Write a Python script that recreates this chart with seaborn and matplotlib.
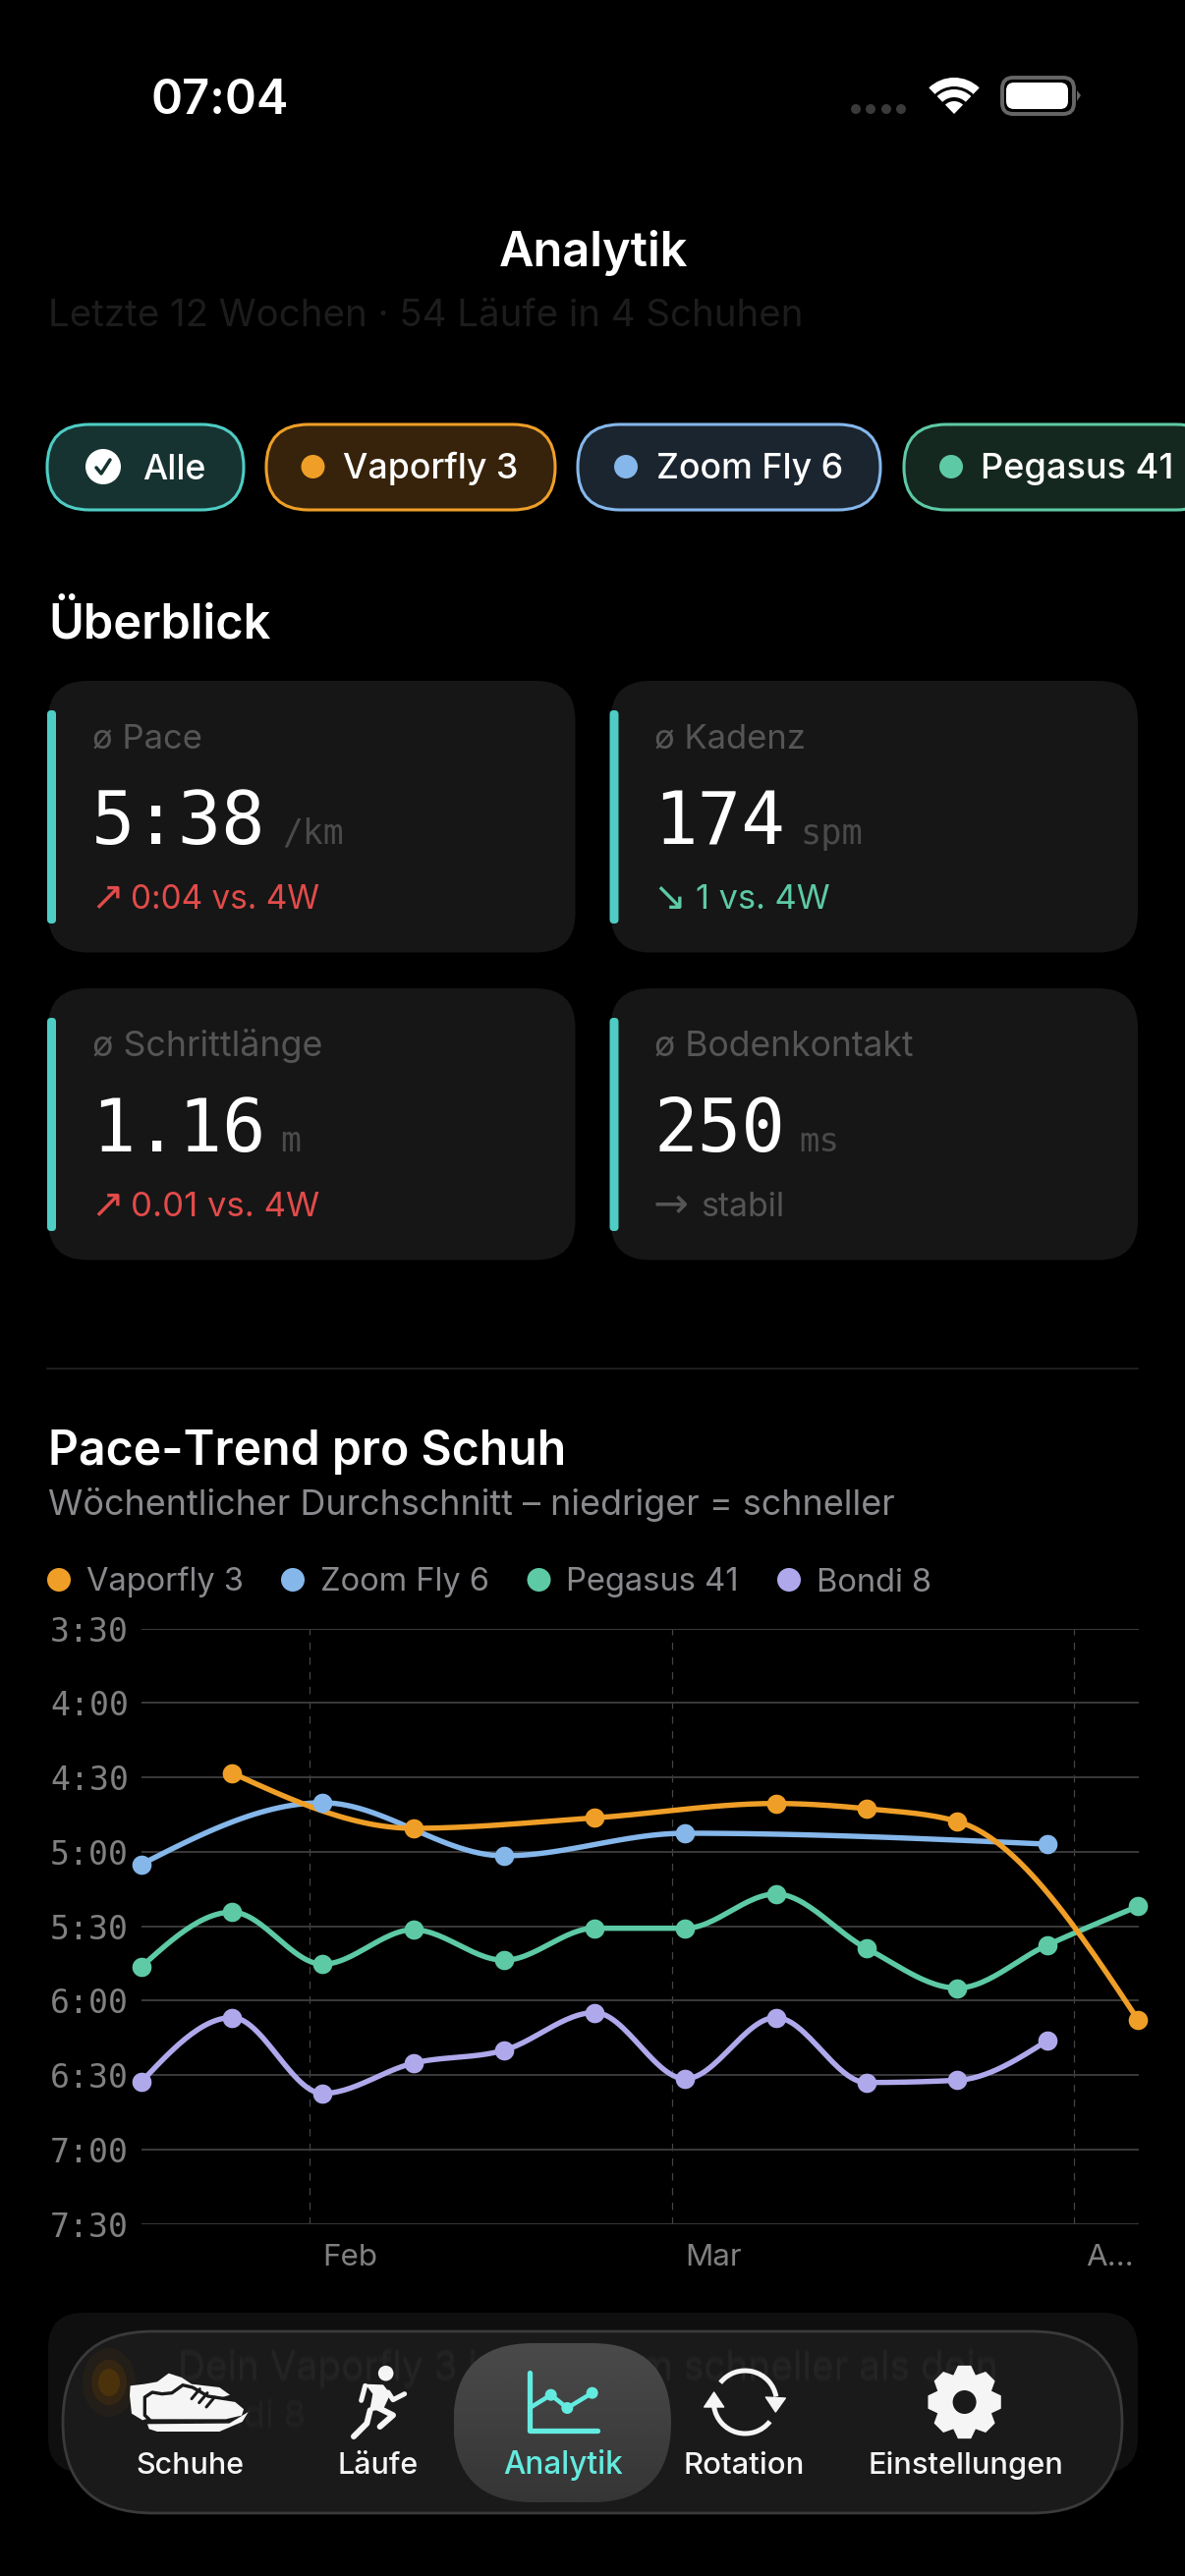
"""
Analytik screen: pace trend per shoe
"""
import numpy as np
import pandas as pd
import matplotlib
matplotlib.use("Agg")
import matplotlib.pyplot as plt
from matplotlib.patches import FancyBboxPatch, Circle, Wedge, Polygon, Ellipse, Arc
from matplotlib.transforms import ScaledTranslation
import seaborn as sns

# chart data, pace in seconds per km
week_dates = pd.date_range("2026-01-19", periods=12, freq="7D")
vaporfly_weeks = [1, 3, 5, 7, 8, 9, 11]
vaporfly_pace = [268.2, 290.5, 286.3, 280.5, 282.6, 287.7, 367.9]
zoomfly_weeks = [0, 2, 4, 6, 10]
zoomfly_pace = [305.0, 280.2, 301.6, 292.5, 296.9]
pegasus_weeks = [0, 1, 2, 3, 4, 5, 6, 7, 8, 9, 10, 11]
pegasus_pace = [346.3, 324.3, 345.3, 331.4, 343.7, 330.8, 330.8, 317.0, 338.9, 354.9, 337.5, 321.9]
bondi_weeks = [0, 1, 2, 3, 4, 5, 6, 7, 8, 9, 10]
bondi_pace = [392.7, 366.8, 397.4, 385.2, 380.0, 364.8, 391.5, 366.8, 393.0, 392.1, 376.0]

shoe_names = ["Vaporfly 3", "Zoom Fly 6", "Pegasus 41", "Bondi 8"]
pace_ticks = [210, 240, 270, 300, 330, 360, 390, 420, 450]
pace_tick_labels = ["3:30", "4:00", "4:30", "5:00", "5:30", "6:00", "6:30", "7:00", "7:30"]
month_ticks = pd.to_datetime(["2026-02-01", "2026-03-01", "2026-04-01"])
month_labels = ["Feb", "Mar", "A…"]

card_labels = ["ø Pace", "ø Kadenz", "ø Schrittlänge", "ø Bodenkontakt"]
card_values = ["5:38", "174", "1.16", "250"]
card_units = ["/km", "spm", "m", "ms"]
card_arrows = ["↗", "↘", "↗", "→"]
card_trends = ["0:04 vs. 4W", "1 vs. 4W", "0.01 vs. 4W", "stabil"]

TEAL = "#4ECDC4"
ORANGE = "#EF9F27"
BLUE = "#85B7EB"
GREEN = "#5DCAA5"
PURPLE = "#AFA9EC"
RED = "#E24B4A"
WHITE = "#F5F5F5"
BAR = "#1A1A1A"

sns.set_theme(style="dark", rc={"figure.facecolor": "black", "axes.facecolor": "none"})
plt.rcParams["font.family"] = ["Inter", "DejaVu Sans"]
MONO = ["DejaVu Sans Mono"]

fig = plt.figure(figsize=(12.06, 26.22), dpi=100)
ov = fig.add_axes([0, 0, 1, 1])
ov.set_xlim(0, 1206)
ov.set_ylim(2622, 0)
ov.axis("off")
renderer = fig.canvas.get_renderer()


def label(x, base, s, width, color="white", weight="normal", family=None, ax_zorder=5, alpha=None):
    """Text from left x on baseline, scaled to the measured width"""
    t = ov.text(x, base, s, color=color, fontweight=weight, fontsize=20, va="baseline",
                ha="left", zorder=ax_zorder, alpha=alpha)
    if family:
        t.set_family(family)
    t.set_fontsize(20 * width / t.get_window_extent(renderer).width)
    return t


def rbox(x0, y0, x1, y1, r, fc, ec="none", lw=0, z=1):
    p = FancyBboxPatch((x0, y0), x1 - x0, y1 - y0, boxstyle=f"round,pad=0,rounding_size={r}",
                       fc=fc, ec=ec, lw=lw, zorder=z)
    ov.add_patch(p)
    return p


def stroke(points, color, px, z=6):
    xs, ys = zip(*points)
    ov.plot(xs, ys, color=color, lw=px * 0.72, solid_capstyle="round", solid_joinstyle="round", zorder=z)


def monotone_curve(xs, ys, per_segment=30):
    """Monotone cubic through the points, same shape as the app's line smoothing"""
    xs = np.asarray(xs, float)
    ys = np.asarray(ys, float)
    h = np.diff(xs)
    s = np.diff(ys) / h
    t = np.zeros(len(xs))
    for i in range(1, len(xs) - 1):
        p = (s[i - 1] * h[i] + s[i] * h[i - 1]) / (h[i - 1] + h[i])
        t[i] = (np.sign(s[i - 1]) + np.sign(s[i])) * min(abs(s[i - 1]), abs(s[i]), 0.5 * abs(p))
    t[0] = (3 * s[0] - t[1]) / 2
    t[-1] = (3 * s[-1] - t[-2]) / 2
    out_x, out_y = [], []
    for i in range(len(h)):
        u = np.linspace(0, 1, per_segment)
        a = 2 * u**3 - 3 * u**2 + 1
        b = u**3 - 2 * u**2 + u
        c = -2 * u**3 + 3 * u**2
        d = u**3 - u**2
        out_x.extend(xs[i] + u * h[i])
        out_y.extend(a * ys[i] + b * h[i] * t[i] + c * ys[i + 1] + d * h[i] * t[i + 1])
    return np.array(out_x), np.array(out_y)


# status bar
label(153, 116, "07:04", 140, weight="semibold")
for x in [871, 886, 902, 917]:
    ov.add_patch(Circle((x, 111), 5, fc="#3A3A3A", ec="none"))
ov.add_patch(Wedge((971, 116), 37, 226, 314, width=9, fc="white", ec="none"))
ov.add_patch(Wedge((971, 116), 25, 226, 314, width=8, fc="white", ec="none"))
ov.add_patch(Wedge((971, 116), 13, 226, 314, fc="white", ec="none"))
rbox(1020, 79, 1093, 116, 11, "black", "#666666", 2.8)
rbox(1024, 84, 1087, 111, 8, "white")
ov.add_patch(Polygon([(1096, 92), (1100, 97), (1096, 103)], fc="#666666", ec="none"))

# header
label(508, 271, "Analytik", 193, weight="semibold")
label(49, 332, "Letzte 12 Wochen · 54 Läufe in 4 Schuhen", 768, color="#1C1C1C")

# filter chips
chips = [
    (48, 248, "#163331", TEAL, None, 145, 64, "Alle"),
    (271, 565, "#37230B", ORANGE, 318.5, 349, 178, "Vaporfly 3"),
    (588, 896, "#1B2530", BLUE, 637, 668, 190, "Zoom Fly 6"),
    (920, 1240, "#152820", GREEN, 968, 998, 196, "Pegasus 41"),
]
for x0, x1, fc, ec, dot, tx, tw, name in chips:
    rbox(x0, 432, x1, 519, 43, fc, ec, 2.2)
    if dot:
        ov.add_patch(Circle((dot, 475), 12, fc=ec, ec="none", zorder=5))
    label(tx, 487.5, name, tw, weight="medium")
ov.add_patch(Circle((105, 475), 18, fc="white", ec="none", zorder=5))
stroke([(98, 476), (103, 482), (112, 468)], "#163331", 3.5)

# overview cards
label(49, 650, "Überblick", 227, weight="semibold")
card_x = [49, 621.5, 49, 621.5]
card_y = [693, 693, 1006, 1006]
label_w = [112, 154, 234, 264]
unit_x = [287, 814, 285, 813]
unit_w = [63, 64, 21, 41]
value_w = [178, 134, 178, 134]
arrow_w = [34, 34, 34, 36]
text_x = [133, 708, 133, 713]
text_w = [192, 137, 192, 85]
trend_c = [RED, GREEN, RED, "#555555"]
for i in range(4):
    x, y = card_x[i], card_y[i]
    rbox(x, y, x + 536.5, y + 276.5, 40, "#161616")
    rbox(x - 1, y + 30, x + 8, y + 247, 4, TEAL, z=2)
    label(x + 45, y + 69, card_labels[i], label_w[i], color="#555555")
    label(x + 44, y + 166, card_values[i], value_w[i], family=MONO)
    label(unit_x[i], y + 166, card_units[i], unit_w[i], color="#4A4A4A", family=MONO)
    label(x + 43, y + 233, card_arrows[i], arrow_w[i], color=trend_c[i], family=["DejaVu Sans"])
    label(text_x[i], y + 232, card_trends[i], text_w[i], color=trend_c[i])

ov.plot([48, 1158], [1392.7, 1392.7], color="#1E1E1E", lw=1.4)

# section header and legend
label(49, 1491, "Pace-Trend pro Schuh", 528, weight="semibold")
label(49, 1542, "Wöchentlicher Durchschnitt – niedriger = schneller", 860, color="#8A8A8E")
legend_dot = [60, 298, 548.5, 803]
legend_tx = [88, 326, 576, 831]
legend_w = [160, 172, 176, 117]
colors = [ORANGE, BLUE, GREEN, PURPLE]
for i, name in enumerate(shoe_names):
    ov.add_patch(Circle((legend_dot[i], 1608), 12, fc=colors[i], ec="none"))
    label(legend_tx[i], 1619.5, name, legend_w[i], color="#8A8A8E")

# trend chart
ax = fig.add_axes([144 / 1206, 1 - 2263.6 / 2622, (1158.5 - 144) / 1206, (2263.6 - 1657.7) / 2622])
ax.patch.set_alpha(0)
series = [
    (zoomfly_weeks, zoomfly_pace, BLUE),
    (bondi_weeks, bondi_pace, PURPLE),
    (pegasus_weeks, pegasus_pace, GREEN),
    (vaporfly_weeks, vaporfly_pace, ORANGE),
]
for weeks, pace, color in series:
    days = [7 * w for w in weeks]
    cx, cy = monotone_curve(days, pace)
    curve = pd.DataFrame({"date": week_dates[0] + pd.to_timedelta(cx, unit="D"), "pace": cy})
    sns.lineplot(data=curve, x="date", y="pace", color=color, lw=3.9, estimator=None, sort=False,
                 ax=ax, clip_on=False, zorder=3)
for weeks, pace, color in series:
    sns.scatterplot(x=week_dates[weeks], y=pace, color=color, s=200, linewidth=0, ax=ax,
                    clip_on=False, zorder=4)

ax.set_xlim(week_dates[0], week_dates[-1])
ax.set_ylim(450, 210)
ax.set_xlabel("")
ax.set_ylabel("")
ax.set_yticks(pace_ticks)
ax.set_yticklabels(pace_tick_labels, fontsize=23.9, color="#808080", family=MONO)
ax.set_xticks(month_ticks)
ax.set_xticklabels(month_labels, fontsize=22.6, color="#808080", ha="left")
ax.tick_params(axis="both", length=0)
ax.tick_params(axis="y", pad=9.4)
ax.tick_params(axis="x", pad=15)
shift = ScaledTranslation(13 / 100, 0, fig.dpi_scale_trans)
for tick_label in ax.get_xticklabels():
    tick_label.set_transform(tick_label.get_transform() + shift)
ax.grid(axis="y", color="#3A3A3A", lw=1.4)
ax.grid(axis="x", color="#444444", lw=0.9, ls=(0, (6, 6)))
ax.set_axisbelow(True)
sns.despine(ax=ax, left=True, bottom=True)

# tab bar with the blurred content under it
rbox(49, 2354, 1158, 2517, 36, "#0F0F0F", z=1)
rbox(64, 2373, 1142, 2558, 92, BAR, "#3A3A3A", 2, z=2)
for w, h, a in [(54, 70, 0.10), (36, 46, 0.2), (22, 28, 0.35)]:
    ov.add_patch(Ellipse((111, 2425), w, h, fc="#7A4A00", ec="none", alpha=a, zorder=3))
for dy, a in [(-2, 0.3), (0, 0.4), (2, 0.3)]:
    label(181, 2422 + dy, "Dein Vaporfly 3 ist 0:12 /km schneller als dein", 834, color="#2A2A2A", ax_zorder=3, alpha=a)
    label(181, 2470 + dy, "Bondi 8", 130, color="#262626", ax_zorder=3, alpha=a)

# selected tab, lighter towards the top
pill = rbox(461.5, 2385, 683, 2547, 81, "none", z=4)
shade = ov.imshow(np.linspace(0.29, 0.21, 64).reshape(-1, 1), cmap="gray", vmin=0, vmax=1, aspect="auto",
                  extent=(461.5, 683, 2547, 2385), zorder=4)
shade.set_clip_path(pill)
ov.set_xlim(0, 1206)
ov.set_ylim(2622, 0)

tab_labels = ["Schuhe", "Läufe", "Analytik", "Rotation", "Einstellungen"]
tab_x = [138, 343, 512, 696, 884]
tab_w = [110, 82, 122, 123, 198]
for i, name in enumerate(tab_labels):
    label(tab_x[i], 2518, name, tab_w[i], color="#64EBE0" if i == 2 else WHITE, weight="medium", ax_zorder=7)


def zoom_pts(points, x0, y0):
    return [(x0 + px / 3, y0 + py / 3) for px, py in points]


# shoes icon
back_shoe = [(68, 100), (110, 95), (150, 88), (185, 62), (225, 75), (255, 95), (340, 105), (372, 128),
             (300, 150), (105, 205), (72, 185), (66, 130)]
front_shoe = [(112, 135), (135, 120), (165, 125), (195, 122), (228, 98), (258, 105), (305, 132),
              (390, 145), (420, 170), (412, 195), (360, 207), (130, 207), (112, 190)]
sole = [(120, 217), (370, 215), (428, 180), (410, 210), (340, 240), (150, 240), (125, 232)]
ov.add_patch(Polygon(zoom_pts(back_shoe, 110, 2395), fc=WHITE, ec="none", zorder=6))
ov.add_patch(Polygon(zoom_pts(front_shoe, 110, 2395), fc=WHITE, ec=BAR, lw=2.4, joinstyle="round", zorder=6))
ov.add_patch(Polygon(zoom_pts(sole, 110, 2395), fc=WHITE, ec="none", zorder=6))
for a, b in [((255, 140), (280, 110)), ((278, 152), (303, 122)), ((300, 165), (325, 135))]:
    stroke(zoom_pts([a, b], 110, 2395), BAR, 3, z=7)

# runner icon
ov.add_patch(Circle(zoom_pts([(848, 62)], 110, 2395)[0], 7.8, fc=WHITE, ec="none", zorder=6))
torso = [(785, 95), (840, 97), (862, 125), (840, 172), (798, 178), (808, 125)]
ov.add_patch(Polygon(zoom_pts(torso, 110, 2395), fc=WHITE, ec="none", zorder=6))
stroke(zoom_pts([(785, 100), (773, 145)], 110, 2395), WHITE, 5)
stroke(zoom_pts([(855, 120), (870, 143), (905, 125)], 110, 2395), WHITE, 5)
stroke(zoom_pts([(820, 165), (870, 190), (830, 225)], 110, 2395), WHITE, 6)
stroke(zoom_pts([(800, 175), (790, 215), (750, 255)], 110, 2395), WHITE, 6)

# analytics icon
ICON = "#64EBE0"
stroke(zoom_pts([(57, 60), (57, 237), (265, 237)], 520, 2395), ICON, 5.3)
stroke(zoom_pts([(62, 165), (122, 128), (172, 168), (248, 122)], 520, 2395), ICON, 4.5)
for p in [(122, 128), (172, 168), (248, 122)]:
    ov.add_patch(Circle(zoom_pts([p], 520, 2395)[0], 6, fc=ICON, ec="none", zorder=6))

# rotation icon
rot_c = zoom_pts([(715, 150)], 520, 2395)[0]
ov.add_patch(Arc(rot_c, 64, 64, theta1=218, theta2=350, color=WHITE, lw=3.6, zorder=6))
ov.add_patch(Arc(rot_c, 64, 64, theta1=38, theta2=172, color=WHITE, lw=3.6, zorder=6))
ov.add_patch(Polygon(zoom_pts([(778, 135), (838, 138), (808, 180)], 520, 2395), fc=WHITE, ec=WHITE,
                     lw=1, joinstyle="round", zorder=6))
ov.add_patch(Polygon(zoom_pts([(590, 165), (650, 165), (620, 120)], 520, 2395), fc=WHITE, ec=WHITE,
                     lw=1, joinstyle="round", zorder=6))

# settings icon
angles = np.linspace(0, 2 * np.pi, 8, endpoint=False) + np.pi / 2
gear = []
for a in angles:
    for da, rad in [(-0.38, 29), (-0.17, 37), (0.17, 37), (0.38, 29)]:
        gear.append((981.6 + rad * np.cos(a + da), 2445 + rad * np.sin(a + da)))
ov.add_patch(Polygon(gear, fc=WHITE, ec=WHITE, lw=1, joinstyle="round", zorder=6))
ov.add_patch(Circle((981.6, 2445), 12, fc=BAR, ec="none", zorder=7))

fig.savefig("out.png", dpi=100, facecolor="black")
plt.close(fig)
